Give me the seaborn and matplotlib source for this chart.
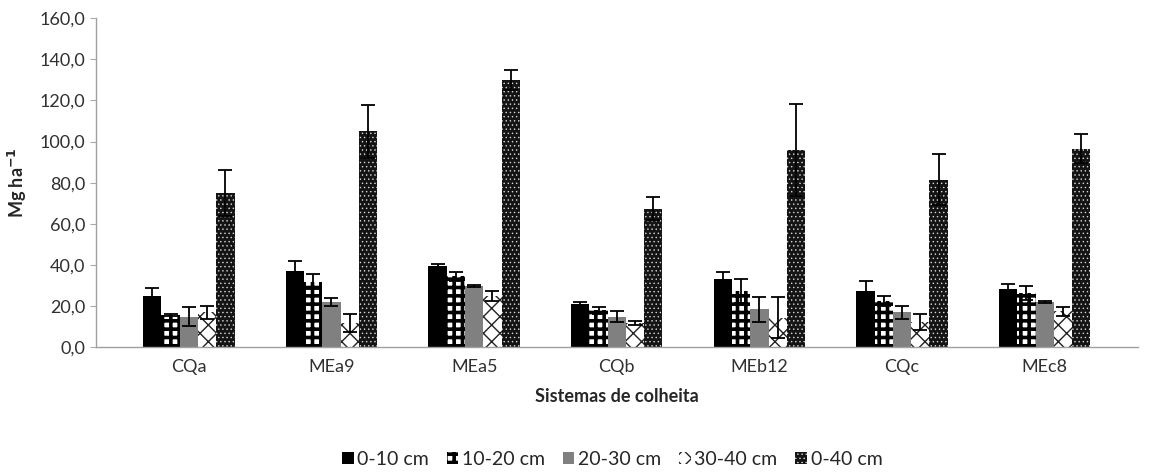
import numpy as np
import pandas as pd
import matplotlib
matplotlib.use('Agg')
import matplotlib.pyplot as plt
import seaborn as sns
from matplotlib.ticker import FuncFormatter
from matplotlib.patches import Patch

# dados
sistemas = ['CQa', 'MEa9', 'MEa5', 'CQb', 'MEb12', 'CQc', 'MEc8']
camadas = ['0-10 cm', '10-20 cm', '20-30 cm', '30-40 cm', '0-40 cm']

v_0_10 = [25.0, 37.0, 39.5, 21.0, 33.5, 27.5, 28.5]
v_10_20 = [16.0, 32.0, 34.5, 18.0, 27.5, 22.5, 26.5]
v_20_30 = [15.0, 22.0, 30.0, 15.0, 18.5, 17.0, 22.0]
v_30_40 = [17.0, 12.0, 25.0, 12.0, 14.5, 12.5, 17.5]
v_0_40 = [75.0, 105.0, 130.0, 67.5, 96.0, 81.5, 96.5]

e_0_10 = [4.0, 5.0, 1.0, 1.0, 3.0, 5.0, 2.5]
e_10_20 = [0.5, 3.5, 2.0, 1.5, 6.0, 2.5, 3.5]
e_20_30 = [4.5, 2.0, 0.5, 2.5, 6.0, 3.0, 0.5]
e_30_40 = [3.0, 4.5, 2.5, 1.0, 10.0, 4.0, 2.0]
e_0_40 = [11.0, 13.0, 5.0, 5.5, 22.5, 12.5, 7.0]

valores = [v_0_10, v_10_20, v_20_30, v_30_40, v_0_40]
erros = [e_0_10, e_10_20, e_20_30, e_30_40, e_0_40]

rows = []
for c, vals, errs in zip(camadas, valores, erros):
    for s, v, e in zip(sistemas, vals, errs):
        rows.append({'sistema': s, 'camada': c, 'valor': v, 'erro': e})
df = pd.DataFrame(rows)

sns.set_style('white')
plt.rcParams['font.family'] = ['Lato', 'DejaVu Sans']
plt.rcParams['hatch.linewidth'] = 1.6

# estilo de cada camada (face, cor do hatch, hatch, espessura do hatch)
estilos = [
    ('black', 'black', '', 1.0),
    ('white', 'black', '++', 2.6),
    ('#808080', '#808080', '', 1.0),
    ('white', '#222222', 'xx', 1.0),
    ('#141414', '#d8d8d8', '....', 0.5),
]

fig, ax = plt.subplots(figsize=(11.55, 4.76), dpi=100)
fig.subplots_adjust(left=0.083, right=0.985, top=0.962, bottom=0.27)

sns.barplot(data=df, x='sistema', y='valor', hue='camada', hue_order=camadas,
            order=sistemas, width=0.64, gap=0, errorbar=None, ax=ax,
            legend=False)


def estilo_barra(p, fc, hc, h, hlw):
    p.set_facecolor(fc)
    p.set_edgecolor(hc)
    p.set_hatch(h)
    p.set_linewidth(0)
    try:
        p.set_hatch_linewidth(hlw)
    except AttributeError:
        pass


bars = [p for p in ax.patches]
for i, c in enumerate(camadas):
    fc, hc, h, hlw = estilos[i]
    for j in range(len(sistemas)):
        p = bars[i * len(sistemas) + j]
        estilo_barra(p, fc, hc, h, hlw)
        x = p.get_x() + p.get_width() / 2
        ax.errorbar(x, p.get_height(), yerr=erros[i][j], fmt='none',
                    ecolor='black', elinewidth=1.3, capsize=5, capthick=1.3)

ax.set_ylim(0, 160)
ax.set_yticks(np.arange(0, 161, 20))
ax.yaxis.set_major_formatter(FuncFormatter(lambda v, pos: f'{v:.1f}'.replace('.', ',')))
ax.tick_params(axis='y', labelsize=13, length=4, left=True, width=0.8,
               colors='#aaaaaa', labelcolor='#303030')
ax.tick_params(axis='x', labelsize=13, labelcolor='#303030', length=0, pad=8)
for s in ['top', 'right']:
    ax.spines[s].set_visible(False)
for s in ['left', 'bottom']:
    ax.spines[s].set_color('#a0a0a0')
    ax.spines[s].set_linewidth(1.0)

ax.set_xlabel('Sistemas de colheita', fontsize=13, fontweight='bold', labelpad=10)
ax.set_ylabel('Mg ha$^{\\mathbf{-1}}$', fontsize=13, fontweight='bold', labelpad=8)

handles = []
for (fc, hc, h, hlw), c in zip(estilos, camadas):
    hp = Patch(facecolor=fc, edgecolor=hc, hatch=h, linewidth=0, label=c)
    handles.append(hp)
leg = fig.legend(handles=handles, loc='lower center', ncol=5, frameon=False,
                 fontsize=14, bbox_to_anchor=(0.53, -0.02), handlelength=0.6,
                 handleheight=0.6, handletextpad=0.2, columnspacing=0.9)
for hp, (fc, hc, h, hlw) in zip(leg.get_patches(), estilos):
    try:
        hp.set_hatch_linewidth(hlw)
    except AttributeError:
        pass

fig.savefig('out.png', dpi=100)
